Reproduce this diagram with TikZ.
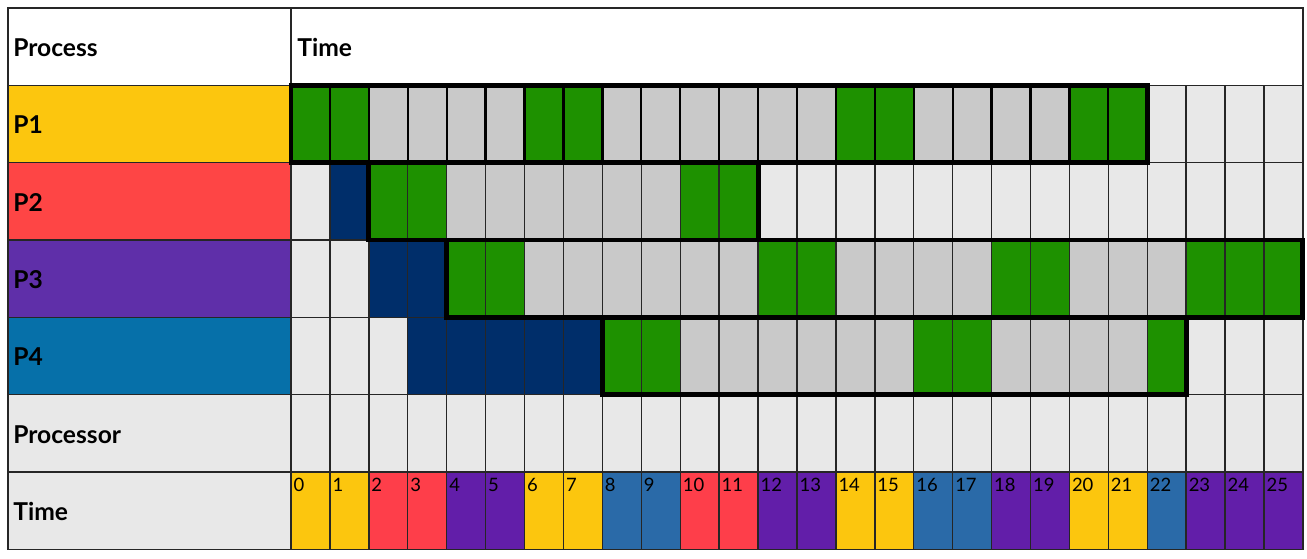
\documentclass[tikz,border=0pt]{standalone}
\usepackage{fontspec}
\setmainfont{Lato}
\definecolor{pyellow}{HTML}{FCC60E}
\definecolor{pred}{HTML}{FE4545}
\definecolor{ppurple}{HTML}{5F2FA9}
\definecolor{pblue}{HTML}{0670A9}
\definecolor{tred}{HTML}{FE3E4A}
\definecolor{tpurple}{HTML}{621EA9}
\definecolor{tblue}{HTML}{2A6AA8}
\definecolor{run}{HTML}{1E9100}
\definecolor{wait}{HTML}{C9C9C9}
\definecolor{idle}{HTML}{E8E8E8}
\definecolor{arrive}{HTML}{002E6A}

\begin{document}
\begin{tikzpicture}[
  x=0.02cm, y=-0.02cm,
  cell/.style={draw=black!85,line width=0.8pt},
  heavy/.style={draw=black,line width=1.3pt},
  block/.style={draw=black,line width=2.8pt},
  rowlabel/.style={font=\bfseries\fontsize{14}{16}\selectfont,anchor=base west,inner sep=0pt},
  tnum/.style={font=\fontsize{10.5}{12}\selectfont,anchor=north west,inner sep=1pt}
]
\useasboundingbox (0,0) rectangle (1307,558);

% left column
\draw[cell,fill=white] (8,8) rectangle (291,85.33);
\draw[cell,fill=pyellow] (8,85.33) rectangle (291,162.67);
\draw[cell,fill=pred] (8,162.67) rectangle (291,240);
\draw[cell,fill=ppurple] (8,240) rectangle (291,317.33);
\draw[cell,fill=pblue] (8,317.33) rectangle (291,394.67);
\draw[cell,fill=idle] (8,394.67) rectangle (291,472);
\draw[cell,fill=idle] (8,472) rectangle (291,549.33);
\draw[cell,fill=white] (291,8) rectangle (1302.9,85.33);

\node[rowlabel] (hproc) at (13,56.5) {Process};
\node[rowlabel] (htime) at (297,56.5) {Time};
\node[rowlabel] (lp1) at (13,133.8) {P1};
\node[rowlabel] (lp2) at (13,211.2) {P2};
\node[rowlabel] (lp3) at (13,288.5) {P3};
\node[rowlabel] (lp4) at (13,365.8) {P4};
\node[rowlabel] (lproc) at (13,443.2) {Processor};
\node[rowlabel] (ltime) at (13,520.5) {Time};

% process rows
\foreach \s [count=\c from 0] in {run,run,wait,wait,wait,wait,run,run,wait,wait,wait,wait,wait,wait,run,run,wait,wait,wait,wait,run,run,idle,idle,idle,idle}
  \draw[cell,fill=\s] (291+38.92*\c,85.33) rectangle ++(38.92,77.33);
\foreach \c in {0,...,21}
  \draw[heavy] (291+38.92*\c,85.33) rectangle ++(38.92,77.33);
\foreach \s [count=\c from 0] in {idle,arrive,run,run,wait,wait,wait,wait,wait,wait,run,run,idle,idle,idle,idle,idle,idle,idle,idle,idle,idle,idle,idle,idle,idle}
  \draw[cell,fill=\s] (291+38.92*\c,162.67) rectangle ++(38.92,77.33);
\foreach \s [count=\c from 0] in {idle,idle,arrive,arrive,run,run,wait,wait,wait,wait,wait,wait,run,run,wait,wait,wait,wait,run,run,wait,wait,wait,run,run,run}
  \draw[cell,fill=\s] (291+38.92*\c,240) rectangle ++(38.92,77.33);
\foreach \s [count=\c from 0] in {idle,idle,idle,arrive,arrive,arrive,arrive,arrive,run,run,wait,wait,wait,wait,wait,wait,run,run,wait,wait,wait,wait,run,idle,idle,idle}
  \draw[cell,fill=\s] (291+38.92*\c,317.33) rectangle ++(38.92,77.33);

% processor row
\foreach \c in {0,...,25}
  \draw[cell,fill=idle] (291+38.92*\c,394.67) rectangle ++(38.92,77.33);

% time row
\foreach \s [count=\c from 0] in {pyellow,pyellow,tred,tred,tpurple,tpurple,pyellow,pyellow,tblue,tblue,tred,tred,tpurple,tpurple,pyellow,pyellow,tblue,tblue,tpurple,tpurple,pyellow,pyellow,tblue,tpurple,tpurple,tpurple}{
  \draw[cell,fill=\s] (291+38.92*\c,472) rectangle ++(38.92,77.33);
  \node[tnum] (t\c) at (291.5+38.92*\c,476.5) {\c};
}

% bursts of each process
\draw[block] (291,85.33) rectangle (291+38.92*22,162.67);
\draw[block] (291+38.92*2,162.67) rectangle (291+38.92*12,240);
\draw[block] (291+38.92*4,240) rectangle (1302.9,317.33);
\draw[block] (291+38.92*8,317.33) rectangle (291+38.92*23,394.67);
\end{tikzpicture}
\end{document}
